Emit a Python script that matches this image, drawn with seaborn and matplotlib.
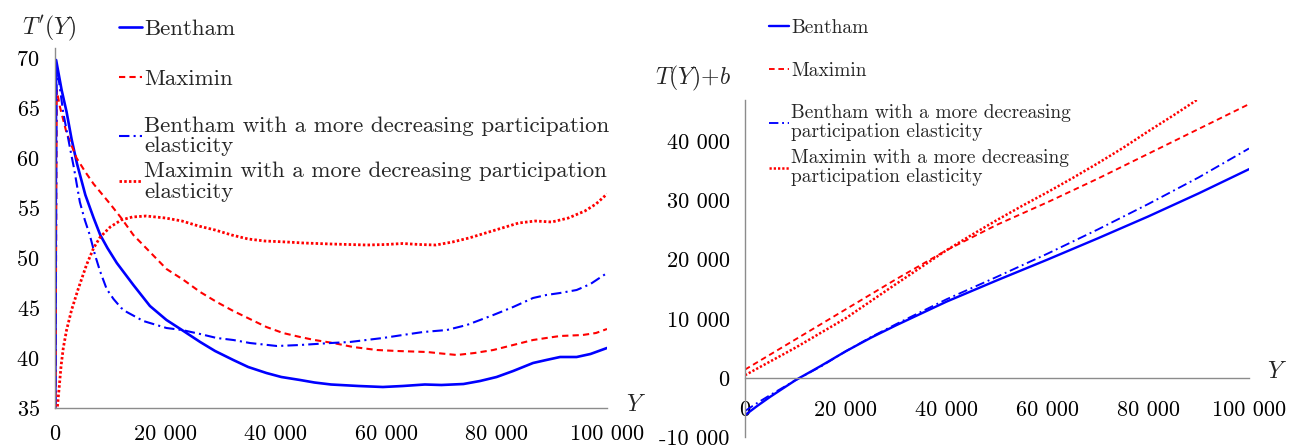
import numpy as np
import pandas as pd
import matplotlib
matplotlib.use("Agg")
import matplotlib.pyplot as plt
import seaborn as sns
from matplotlib.ticker import FuncFormatter, MultipleLocator

# ---- painel esquerdo: T'(Y) ----
bentham_x = [0, 200, 1200, 2100, 3000, 4000, 5500, 7000, 8200, 9500, 11200, 14200, 17200, 20200,
             23000, 26300, 29000, 32300, 35000, 38300, 41000, 44400, 47000, 50000, 55000, 59400,
             63000, 67000, 70000, 74000, 77000, 80000, 83000, 86600, 89000, 91500, 94500, 97000, 100000]
bentham_v = [20, 69.8, 66.8, 64.6, 61.9, 59.4, 56.3, 54.0, 52.3, 51.0, 49.5, 47.3, 45.2, 43.8,
             42.8, 41.6, 40.7, 39.8, 39.1, 38.5, 38.1, 37.8, 37.55, 37.35, 37.2, 37.1,
             37.2, 37.35, 37.3, 37.4, 37.7, 38.1, 38.7, 39.5, 39.8, 40.1, 40.1, 40.4, 41.0]

maximin_x = [0, 300, 900, 2100, 3900, 5500, 7000, 8500, 10000, 12000, 14200, 17200, 20200, 23300,
             26300, 29300, 32300, 35300, 38300, 41300, 44400, 47000, 50400, 54000, 58300, 62000,
             67400, 70000, 72800, 76000, 79400, 83000, 86600, 89000, 91500, 95600, 98000, 100000]
maximin_v = [20, 66.8, 65.1, 62.5, 60.0, 58.6, 57.4, 56.4, 55.4, 54.0, 52.3, 50.6, 48.9, 47.8,
             46.6, 45.6, 44.7, 43.9, 43.1, 42.5, 42.1, 41.8, 41.5, 41.1, 40.8, 40.7,
             40.6, 40.45, 40.3, 40.5, 40.8, 41.3, 41.8, 42.0, 42.2, 42.3, 42.5, 42.9]

bentham2_x = [0, 300, 1500, 3000, 3400, 4500, 5400, 6300, 7250, 8150, 9360, 10600, 12000, 13000,
              16000, 17200, 20200, 23000, 26300, 29300, 32300, 35300, 40200, 44400, 50000, 53400,
              59400, 63000, 66700, 71000, 74600, 79400, 83000, 86600, 89000, 91500, 94500, 97000, 100000]
bentham2_v = [20, 69.4, 64.5, 60.2, 59.1, 55.6, 53.8, 52.3, 50.3, 48.7, 46.9, 45.9, 45.0, 44.6,
              43.7, 43.5, 43.0, 42.8, 42.4, 42.0, 41.8, 41.5, 41.2, 41.3, 41.5, 41.6,
              42.0, 42.3, 42.6, 42.8, 43.3, 44.3, 45.1, 46.0, 46.3, 46.5, 46.8, 47.4, 48.5]

maximin2_x = [0, 420, 780, 1100, 1500, 2100, 3000, 4200, 5700, 7000, 8200, 10000, 12000, 14000,
              16500, 20000, 23000, 26000, 29000, 32000, 35000, 38000, 42000, 45000, 50000, 56500,
              60000, 63000, 66000, 69000, 72000, 75000, 78000, 81000, 84000, 87000, 90000, 93000,
              96000, 98000, 100000]
maximin2_v = [20, 35.0, 37.2, 39.2, 41.0, 42.8, 44.8, 46.9, 49.3, 51.0, 52.1, 53.1, 53.8, 54.1,
              54.2, 54.0, 53.7, 53.2, 52.8, 52.3, 51.9, 51.7, 51.6, 51.5, 51.4, 51.3,
              51.35, 51.45, 51.35, 51.3, 51.6, 52.0, 52.5, 53.0, 53.5, 53.7, 53.6, 54.0,
              54.7, 55.4, 56.4]

# ---- painel direito: T(Y)+b ----
tb_x = [0, 2500, 5000, 7500, 10000, 12500, 15000, 20000, 25000, 30000, 35000, 40000,
        50000, 60000, 70000, 80000, 90000, 100000]
tb_bentham = [-6300, -4700, -3200, -1800, -400, 800, 2000, 4500, 6800, 8900, 10900, 12900,
              16500, 20000, 23600, 27300, 31200, 35300]
tb_bentham2 = [-5600, -4200, -2900, -1650, -400, 750, 1900, 4500, 6900, 9100, 11200, 13300,
               17100, 21000, 25100, 29400, 33900, 38800]
tb_max_x = [0, 10000, 20000, 30000, 40000, 50000, 60000, 70000, 80000, 90000, 100000]
tb_maximin = [1400, 6500, 11600, 16700, 21600, 25900, 29700, 33700, 37900, 42100, 46300]
tb_max2_x = [0, 10000, 20000, 30000, 40000, 45000, 50000, 55000, 60000, 65000, 70000,
             75000, 80000, 85000, 90000]
tb_maximin2 = [450, 5100, 10100, 15900, 21600, 24200, 26700, 29100, 31400, 33800, 36300,
               38900, 41700, 44400, 47200]

labels_short = ['Bentham', 'Maximin']
labels_long = ['Bentham with a more decreasing participation\nelasticity',
               'Maximin with a more decreasing participation\nelasticity']
labels_long_r = ['Bentham with a more decreasing\nparticipation elasticity',
                 'Maximin with a more decreasing\nparticipation elasticity']

sns.set_style("white")
plt.rcParams['font.family'] = ['cmr10', 'DejaVu Serif']
plt.rcParams['mathtext.fontset'] = 'cm'
plt.rcParams['axes.unicode_minus'] = False
plt.rcParams['axes.formatter.use_mathtext'] = True

W, H = 1290, 448
fig = plt.figure(figsize=(W / 100, H / 100), dpi=100)

ax1 = fig.add_axes([55 / W, 1 - 408 / H, 552 / W, 360 / H])
ax2 = fig.add_axes([745 / W, 1 - 437 / H, 504 / W, 337 / H])

blue, red = '#0000FF', '#FF0000'
estilos = [  # cor, linestyle, largura
    (blue, '-', 1.9),
    (red, (0, (3, 2)), 1.5),
    (blue, (0, (5, 2, 1, 2)), 1.5),
    (red, (0, (0.9, 0.8)), 2.0),
]

series_l = [(bentham_x, bentham_v), (maximin_x, maximin_v),
            (bentham2_x, bentham2_v), (maximin2_x, maximin2_v)]
for (xs, ys), (c, ls, lw) in zip(series_l, estilos):
    sns.lineplot(x=xs, y=ys, ax=ax1, color=c, linestyle=ls, linewidth=lw)

series_r = [(tb_x, tb_bentham), (tb_max_x, tb_maximin),
            (tb_x, tb_bentham2), (tb_max2_x, tb_maximin2)]
for (xs, ys), (c, ls, lw) in zip(series_r, estilos):
    sns.lineplot(x=xs, y=ys, ax=ax2, color=c, linestyle=ls, linewidth=lw * 0.9)

fmt = FuncFormatter(lambda v, p: f"{v:,.0f}".replace(",", " "))
grey = '#8c8c8c'

for ax in (ax1, ax2):
    for s in ['top', 'right']:
        ax.spines[s].set_visible(False)
    for s in ['left', 'bottom']:
        ax.spines[s].set_color(grey)
        ax.spines[s].set_linewidth(1.0)
    ax.set_xlim(0, 100000)
    ax.xaxis.set_major_locator(MultipleLocator(20000))
    ax.xaxis.set_major_formatter(fmt)
    ax.tick_params(axis='both', direction='out', length=4, width=1, color=grey,
                   labelsize=16, labelcolor='black')
    ax.tick_params(axis='x', pad=8)
    ax.tick_params(axis='y', pad=7)
    ax.set_xlabel('')
    ax.set_ylabel('')
    ax.grid(False)

ax1.set_ylim(35, 71)
ax1.yaxis.set_major_locator(MultipleLocator(5))

ax2.set_ylim(-10000, 47000)
ax2.yaxis.set_major_locator(MultipleLocator(10000))
ax2.yaxis.set_major_formatter(fmt)
ax2.spines['bottom'].set_position(('data', 0))
ax2.tick_params(axis='x', pad=12)

# titulos dos eixos
fig.text(22 / W, 1 - 28 / H, r"$T'(Y)$", fontsize=17, va='center', ha='left')
fig.text(626 / W, 1 - 405 / H, r"$Y$", fontsize=17, va='center', ha='left')
fig.text(655 / W, 1 - 78 / H, r"$T(Y){+}b$", fontsize=17, va='center', ha='left')
fig.text(1267 / W, 1 - 372 / H, r"$Y$", fontsize=17, va='center', ha='left')

# legendas
h1 = ax1.get_lines()
legA = fig.legend(h1[:2], labels_short, loc='upper left', bbox_to_anchor=(119 / W, 1 - 19 / H),
                  frameon=False, fontsize=16.5, handlelength=1.0, handletextpad=0.1,
                  labelspacing=1.3, borderpad=0, borderaxespad=0)
legB = fig.legend(h1[2:], labels_long, loc='upper left', bbox_to_anchor=(119 / W, 1 - 116 / H),
                  frameon=False, fontsize=16.5, handlelength=1.0, handletextpad=0.1,
                  labelspacing=0.22, borderpad=0, borderaxespad=0)
for t in legB.get_texts():
    t.set_linespacing(1.08)

h2 = ax2.get_lines()
legC = fig.legend(h2[:2], labels_short, loc='upper left', bbox_to_anchor=(769 / W, 1 - 19 / H),
                  frameon=False, fontsize=14, handlelength=1.05, handletextpad=0.1,
                  labelspacing=1.3, borderpad=0, borderaxespad=0)
legD = fig.legend(h2[2:], labels_long_r, loc='upper left', bbox_to_anchor=(769 / W, 1 - 104 / H),
                  frameon=False, fontsize=14, handlelength=1.05, handletextpad=0.1,
                  labelspacing=0.45, borderpad=0, borderaxespad=0)
for t in legD.get_texts():
    t.set_linespacing(1.05)

fig.savefig('out.png', dpi=100)
